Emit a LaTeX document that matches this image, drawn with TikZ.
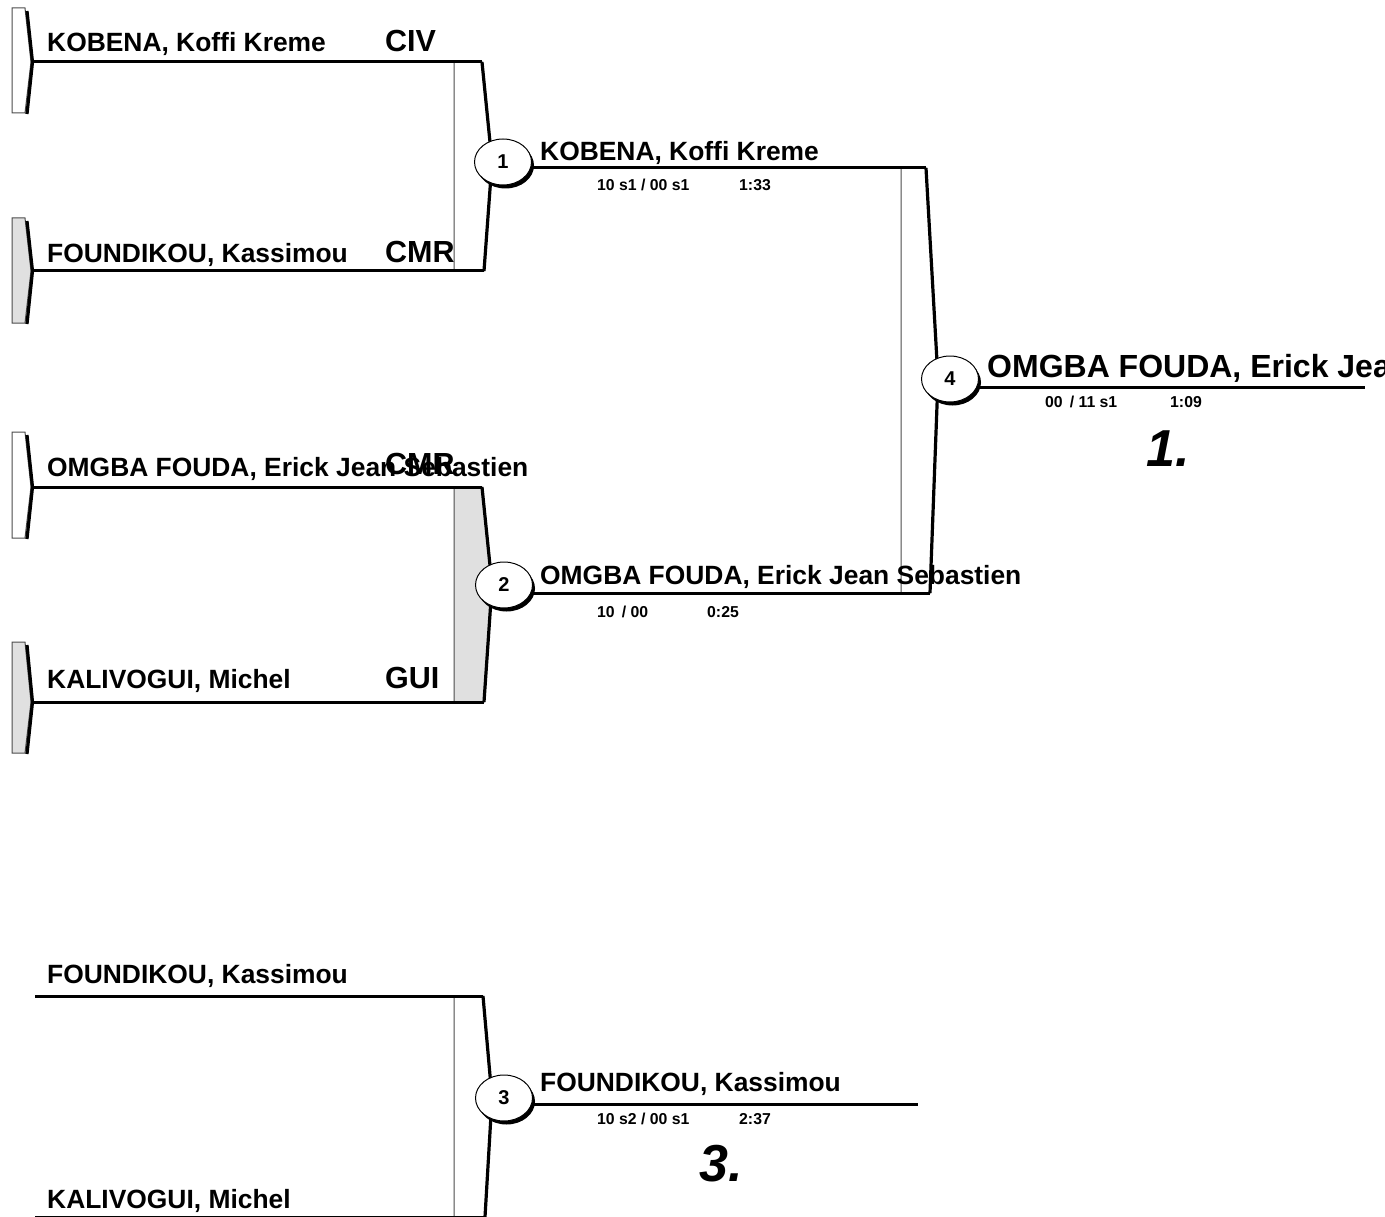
\documentclass[tikz,border=0pt]{standalone}
\usepackage{fontspec}
\setmainfont{Liberation Sans}
\usetikzlibrary{shapes.geometric,shadows}

\begin{document}
\begin{tikzpicture}[x=1pt, y=-1pt, line join=miter]

% Styles for names, flags, scores and bout circles
\tikzstyle{player} = [anchor=base west, inner sep=0pt, font=\fontsize{26.4}{30}\selectfont\bfseries]
\tikzstyle{nation} = [anchor=base west, inner sep=0pt, font=\fontsize{30.5}{34}\selectfont\bfseries]
\tikzstyle{score} = [anchor=base west, inner sep=0pt, font=\fontsize{15.8}{18}\selectfont\bfseries]
\tikzstyle{champ} = [anchor=base west, inner sep=0pt, font=\fontsize{32}{36}\selectfont\bfseries]
\tikzstyle{place} = [anchor=center, inner sep=0pt, font=\fontsize{52}{58}\selectfont\bfseries\itshape]
\tikzstyle{bout} = [ellipse, draw, line width=1pt, fill=white, minimum width=57pt, minimum height=46pt, inner sep=0pt, font=\fontsize{20}{22}\selectfont\bfseries, drop shadow={shadow xshift=2.5pt, shadow yshift=-3.5pt, fill=black, opacity=1}]
\tikzstyle{wire} = [line width=3pt]
\tikzstyle{edge} = [line width=1pt, draw=black!70]
\tikzstyle{rim} = [line width=3.2pt]

\fill[white] (0,0) rectangle (1385,1217);
\useasboundingbox (0,0) rectangle (1385,1217);
\begin{scope}
\clip (0,0) rectangle (1385,1217);

% Entry tabs at the left
\foreach \t/\m/\b/\f [count=\i] in {8/62/113/white, 218/271/323/black!12, 432/487/538/white, 642/702/753/black!12}{
  \filldraw[fill=\f, edge] (12,\t) -- (25,\t) -- (31,\m) -- (25,\b) -- (12,\b) -- cycle;
  \draw[rim] (27,\t+3) -- (32.5,\m) -- (27,\b+1);
  \coordinate (s\i) at (31,\m);
}

% Bracket corners
\coordinate (m1tl) at (454,62);  \coordinate (m1tr) at (482,62);
\coordinate (m1x) at (492,162);  \coordinate (m1br) at (484,271); \coordinate (m1bl) at (454,271);
\coordinate (m2tl) at (454,487); \coordinate (m2tr) at (482,487);
\coordinate (m2x) at (492,585);  \coordinate (m2br) at (484,702); \coordinate (m2bl) at (454,702);
\coordinate (m4tl) at (901,168); \coordinate (m4tr) at (926,168);
\coordinate (m4x) at (938,379);  \coordinate (m4br) at (930,593); \coordinate (m4bl) at (901,593);
\coordinate (m3tl) at (454,996); \coordinate (m3tr) at (483,996);
\coordinate (m3x) at (492,1098); \coordinate (m3br) at (485,1217); \coordinate (m3bl) at (454,1217);

% Bracket bodies
\filldraw[fill=white, edge] (m1tl) -- (m1tr) -- (m1x) -- (m1br) -- (m1bl) -- cycle;
\draw[rim] (m1tr) -- (m1x) -- (m1br);
\filldraw[fill=black!12, edge] (m2tl) -- (m2tr) -- (m2x) -- (m2br) -- (m2bl) -- cycle;
\draw[rim] (m2tr) -- (m2x) -- (m2br);
\filldraw[fill=white, edge] (m4tl) -- (m4tr) -- (m4x) -- (m4br) -- (m4bl) -- cycle;
\draw[rim] (m4tr) -- (m4x) -- (m4br);
\filldraw[fill=white, edge] (m3tl) -- (m3tr) -- (m3x) -- (m3br) -- (m3bl) -- cycle;
\draw[rim] (m3tr) -- (m3x) -- (m3br);

% Entry lines
\draw[wire] (s1) -- (m1tr);
\draw[wire] (s2) -- (m1br);
\draw[wire] (s3) -- (m2tr);
\draw[wire] (s4) -- (m2br);
\coordinate (q1) at (35,996);
\coordinate (q2) at (35,1217);
\draw[wire] (q1) -- (m3tr);
\draw[wire] (q2) -- (m3br);

% Winner lines
\coordinate (fin) at (1365,387);
\coordinate (bronze) at (918,1104);
\draw[wire] (m1x |- m4tr) -- (m4tr);
\draw[wire] (m2x |- m4br) -- (m4br);
\draw[wire] (m4x |- fin) -- (fin);
\draw[wire] (m3x |- bronze) -- (bronze);

% Bouts
\node[bout] (c1) at (503,162) {1};
\node[bout] (c2) at (504,585) {2};
\node[bout] (c4) at (950,379) {4};
\node[bout] (c3) at (504,1098) {3};

% Pool entries
\node[player] (n1) at (47,52) {KOBENA, Koffi Kreme};
\node[nation] (f1) at (385,52) {CIV};
\node[player] (n2) at (47,262) {FOUNDIKOU, Kassimou};
\node[nation] (f2) at (385,262) {CMR};
\node[player] (n3) at (47,476) {OMGBA FOUDA, Erick Jean Sebastien};
\node[nation] (f3) at (385,474) {CMR};
\node[player] (n4) at (47,688) {KALIVOGUI, Michel};
\node[nation] (f4) at (385,688) {GUI};

% Bout results
\node[player] (w1) at (540,161) {KOBENA, Koffi Kreme};
\node[score] (r1) at (597,191) {10 s1 / 00 s1};
\node[score] (t1) at (739,191) {1:33};
\node[player] (w2) at (540,584) {OMGBA FOUDA, Erick Jean Sebastien};
\node[score] (r2) at (597,617) {10 \,/ 00};
\node[score] (t2) at (707,617) {0:25};
\node[champ] (w4) at (987,377) {OMGBA FOUDA, Erick Jean Sebastien};
\node[score] (r4) at (1045,407) {00 \,/ 11 s1};
\node[score] (t4) at (1170,407) {1:09};
\node[place] (p1) at (1168,449) {1.};

% Repechage for third place
\node[player] (n5) at (47,983) {FOUNDIKOU, Kassimou};
\node[player] (n6) at (47,1208) {KALIVOGUI, Michel};
\node[player] (w3) at (540,1091) {FOUNDIKOU, Kassimou};
\node[score] (r3) at (597,1124) {10 s2 / 00 s1};
\node[score] (t3) at (739,1124) {2:37};
\node[place] (p3) at (721,1164) {3.};

\end{scope}
\end{tikzpicture}
\end{document}
